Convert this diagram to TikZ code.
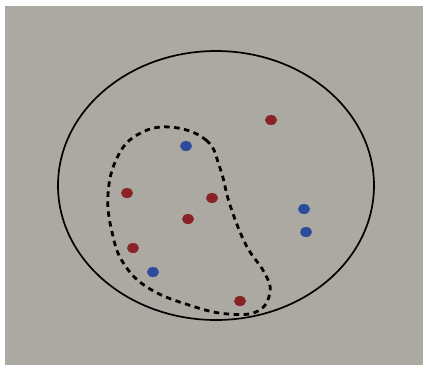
\documentclass[tikz,border=0pt]{standalone}
\usetikzlibrary{positioning,shapes.geometric}
\definecolor{cBack}{HTML}{ACA9A2}
\definecolor{cRed}{HTML}{8A2327}
\definecolor{cBlue}{HTML}{2E4C9C}

\begin{document}
\begin{tikzpicture}[
  x=1pt, y=-1pt,
  dot/.style={ellipse, minimum width=12pt, minimum height=10pt, inner sep=0pt, fill=#1},
  hull/.style={line width=1.7pt, draw=black},
  blob/.style={line width=2.8pt, dash pattern=on 5.5pt off 4.5pt, draw=black},
]
% ---- canvas ----
\useasboundingbox (0,0) rectangle (423,365);
\fill[white] (0,0) rectangle (423,365);
\fill[cBack] (5,6) rectangle (423,365);

% ---- outer set ----
\draw[hull] (216,185.5) ellipse [x radius=158, y radius=134.5];

% ---- subset ----
\draw[blob] plot[smooth cycle, tension=0.7] coordinates {
  (170,127) (206,140) (220,168) (230,205) (246,245) (264,272) (270,292)
  (258,311) (228,314) (192,306) (150,289) (124,264) (112,232) (108,194)
  (117,158) (137,135)};

% ---- points ----
\node[dot=cRed]  (r1) at (271,120) {};
\node[dot=cBlue] (b1) at (186,146) {};
\node[dot=cRed]  (r2) at (127,193) {};
\node[dot=cRed]  (r3) at (212,198) {};
\node[dot=cRed]  (r4) at (188,219) {};
\node[dot=cBlue] (b2) at (304,209) {};
\node[dot=cBlue] (b3) at (306,232) {};
\node[dot=cRed]  (r5) at (133,248) {};
\node[dot=cBlue] (b4) at (153,272) {};
\node[dot=cRed]  (r6) at (240,301) {};

\end{tikzpicture}
\end{document}
